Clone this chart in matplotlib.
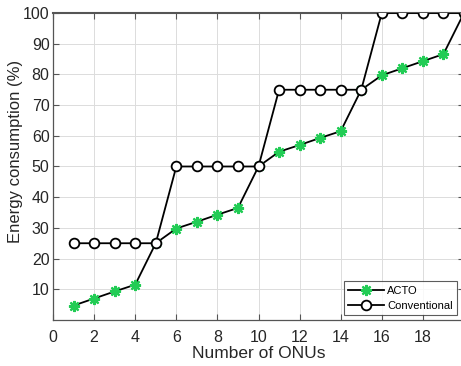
import matplotlib
matplotlib.use("Agg")
import matplotlib.pyplot as plt

plt.rcParams['font.family'] = ['Liberation Sans', 'DejaVu Sans']

# data
onus = list(range(1, 21))
acto = [4.7, 7.0, 9.3, 11.5, 25, 29.8, 32.0, 34.3, 36.5, 50,
        54.8, 57.0, 59.3, 61.5, 75, 79.7, 82.0, 84.3, 86.6, 100]
conventional = [25, 25, 25, 25, 25, 50, 50, 50, 50, 50,
                75, 75, 75, 75, 75, 100, 100, 100, 100, 100]
xticks = list(range(0, 20, 2))
yticks = list(range(10, 101, 10))

fig = plt.figure(figsize=(4.61, 3.66), dpi=100)
ax = fig.add_axes([0.115, 0.1257, 0.8915, 0.8388])

ax.plot(onus, acto, color='black', lw=1.3, marker=(8, 2, 0), ms=8,
        mfc='#22cc55', mec='#22cc55', mew=1.6, label='ACTO', zorder=3)
ax.plot(onus, conventional, color='black', lw=1.3, marker='o', ms=7,
        mfc='white', mec='black', mew=1.3, label='Conventional', zorder=3)

ax.set_xlim(0, 20)
ax.set_ylim(0, 100)
ax.set_xticks(xticks)
ax.set_yticks(yticks)
ax.grid(True, color='#dcdcdc', lw=0.7)
ax.set_axisbelow(True)

ax.tick_params(direction='in', top=True, right=True, length=4,
               color='#555555', labelcolor='#262626', labelsize=11.5)
ax.tick_params(axis='x', pad=7)
ax.tick_params(axis='y', pad=2.5)
for s in ax.spines.values():
    s.set_color('#555555')
    s.set_linewidth(0.9)
ax.spines['top'].set_linewidth(1.5)

ax.set_xlabel('Number of ONUs', fontsize=12.5, color='#262626', labelpad=1)
ax.set_ylabel('Energy consumption (%)', fontsize=12, color='#262626')
ax.yaxis.set_label_coords(-0.072, 0.55)

leg = ax.legend(loc='lower right', bbox_to_anchor=(0.983, 0.016), fontsize=8,
                frameon=True, fancybox=False, edgecolor='#333333',
                handlelength=3.2, borderpad=0.4, labelspacing=0.45,
                handletextpad=0.3, borderaxespad=0)
leg.get_frame().set_linewidth(0.8)

fig.savefig('out.png', dpi=100)
